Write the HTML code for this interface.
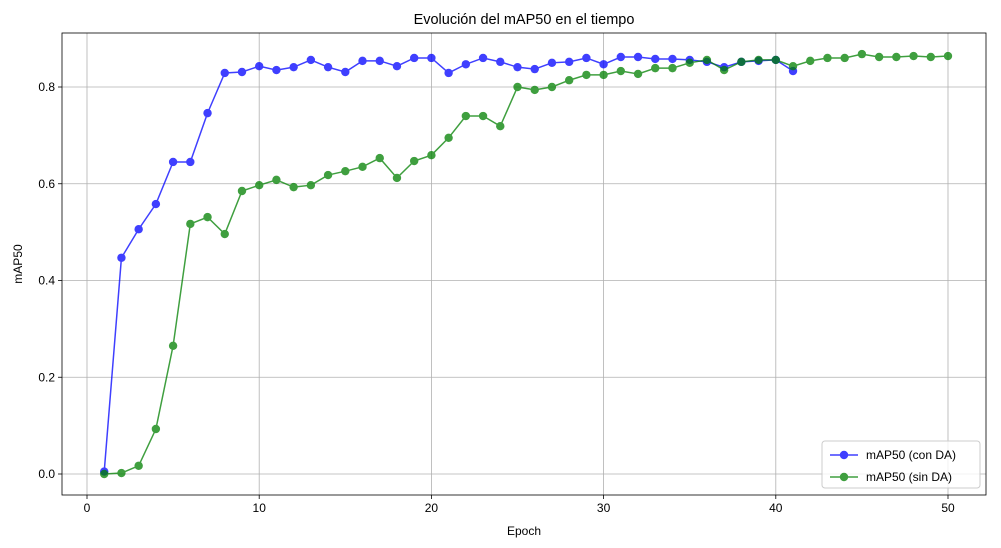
<!DOCTYPE html>
<html><head><meta charset="utf-8"><style>
html,body{margin:0;padding:0;background:#fff;}
svg{display:block;font-family:"Liberation Sans","DejaVu Sans",sans-serif;}
</style></head><body>
<svg id="c" width="1001" height="548"></svg>
<script>
const epochsA=[1,2,3,4,5,6,7,8,9,10,11,12,13,14,15,16,17,18,19,20,21,22,23,24,25,26,27,28,29,30,31,32,33,34,35,36,37,38,39,40,41];
const conDA=[0.005,0.447,0.506,0.558,0.645,0.645,0.746,0.829,0.831,0.843,0.835,0.841,0.856,0.841,0.831,0.854,0.854,0.843,0.860,0.860,0.829,0.847,0.860,0.852,0.841,0.837,0.850,0.852,0.860,0.847,0.862,0.862,0.858,0.858,0.856,0.852,0.841,0.852,0.854,0.856,0.833];
const epochsB=[1,2,3,4,5,6,7,8,9,10,11,12,13,14,15,16,17,18,19,20,21,22,23,24,25,26,27,28,29,30,31,32,33,34,35,36,37,38,39,40,41,42,43,44,45,46,47,48,49,50];
const sinDA=[0.0,0.002,0.017,0.093,0.265,0.517,0.531,0.496,0.585,0.597,0.608,0.593,0.597,0.618,0.626,0.635,0.653,0.612,0.647,0.659,0.695,0.740,0.740,0.719,0.800,0.794,0.800,0.814,0.825,0.825,0.833,0.827,0.839,0.839,0.850,0.856,0.835,0.852,0.856,0.856,0.843,0.854,0.860,0.860,0.868,0.862,0.862,0.864,0.862,0.864];
const xTicks=[0,10,20,30,40,50];
const yTicks=[0.0,0.2,0.4,0.6,0.8];
const yLabels=["0.0","0.2","0.4","0.6","0.8"];

const svg=document.getElementById('c');
const NS='http://www.w3.org/2000/svg';
const L=62,R=986,T=33,B=495;
const X=v=>87+(v-0)*(948-87)/50;
const Y=v=>474-v*(474-87)/0.8;
function mk(tag,attrs,parent){const e=document.createElementNS(NS,tag);for(const k in attrs)e.setAttribute(k,attrs[k]);(parent||svg).appendChild(e);return e;}

const grid=mk('g',{});


xTicks.forEach(t=>{
  mk('line',{x1:X(t),x2:X(t),y1:T,y2:B,stroke:'#b0b0b0','stroke-width':0.8},grid);
  mk('line',{x1:X(t),x2:X(t),y1:B,y2:B+4,stroke:'#000','stroke-width':0.8},grid);
  const tx=mk('text',{x:X(t),y:B+17,'text-anchor':'middle','font-size':12},grid);
  tx.textContent=t;
  
  
});
yTicks.forEach((t,i)=>{
  mk('line',{x1:L,x2:R,y1:Y(t),y2:Y(t),stroke:'#b0b0b0','stroke-width':0.8},grid);
  mk('line',{x1:L-4,x2:L,y1:Y(t),y2:Y(t),stroke:'#000','stroke-width':0.8},grid);
  const tx=mk('text',{x:L-7,y:Y(t)+4,'text-anchor':'end','font-size':12},grid);
  tx.textContent=yLabels[i];
  
  
});

function series(xs,ys,color,name){
  const g=mk('g',{opacity:0.75});
  
  
  mk('polyline',{points:xs.map((x,i)=>X(x)+','+Y(ys[i])).join(' '),fill:'none',stroke:color,'stroke-width':1.5},g);
  xs.forEach((x,i)=>{
    const c=mk('circle',{cx:X(x),cy:Y(ys[i]),r:4.2,fill:color},g);
    
    
  });
}
series(epochsA,conDA,'#0000ff','series-con-da');
series(epochsB,sinDA,'#008000','series-sin-da');

const frame=mk('rect',{x:L,y:T,width:R-L,height:B-T,fill:'none',stroke:'#000','stroke-width':0.8});



const title=mk('text',{x:(L+R)/2,y:24,'text-anchor':'middle','font-size':14.5});
title.textContent='Evolución del mAP50 en el tiempo';


const xt=mk('text',{x:(L+R)/2,y:535,'text-anchor':'middle','font-size':12});
xt.textContent='Epoch';


const yt=mk('text',{x:22,y:264,'text-anchor':'middle','font-size':12,transform:'rotate(-90 22 264)'});
yt.textContent='mAP50';



const lg=mk('g',{});


mk('rect',{x:822,y:441,width:158,height:47,rx:3,fill:'#fff','fill-opacity':0.8,stroke:'#ccc'},lg);
[['mAP50 (con DA)','#0000ff',455],['mAP50 (sin DA)','#008000',477]].forEach(([t,c,y])=>{
  const e=mk('g',{},lg);
  
  
  const m=mk('g',{opacity:0.75},e);
  mk('line',{x1:830,x2:858,y1:y,y2:y,stroke:c,'stroke-width':1.5},m);
  mk('circle',{cx:844,cy:y,r:4.2,fill:c},m);
  const tx=mk('text',{x:866,y:y+4,'font-size':12},e);
  tx.textContent=t;
});
</script>
</body></html>
